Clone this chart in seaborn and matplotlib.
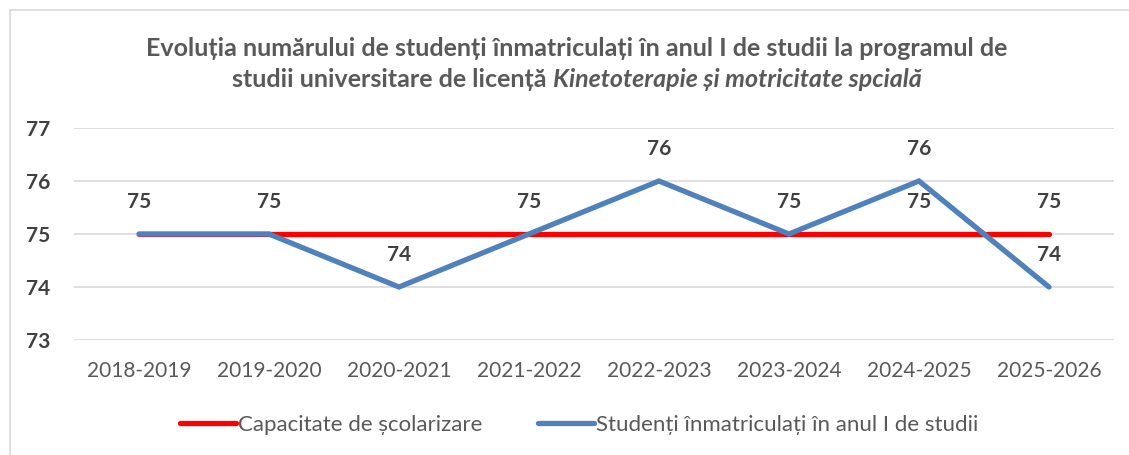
import pandas as pd
import seaborn as sns
import matplotlib
matplotlib.use("Agg")
from matplotlib import pyplot as plt
from matplotlib.patches import Rectangle

# data
years = ["2018-2019", "2019-2020", "2020-2021", "2021-2022",
         "2022-2023", "2023-2024", "2024-2025", "2025-2026"]
capacitate = [75, 75, 75, 75, 75, 75, 75, 75]
inmatriculati = [75, 75, 74, 75, 76, 75, 76, 74]
capacitate_labels_at = [6, 7]  # only these labels of the red series are visible

sns.set_theme(style="white")
plt.rcParams["font.family"] = ["Lato", "DejaVu Sans"]

df = pd.DataFrame({"an": years, "cap": capacitate, "stud": inmatriculati})
df["x"] = range(len(years))

fig = plt.figure(figsize=(11.29, 4.55), dpi=100)
ax = fig.add_axes([0.0655, 0.2527, 0.9212, 0.466])

# outer chart frame
fig.patches.append(Rectangle((10 / 1129, -0.1), 1.2, 1 - 10 / 455 + 0.1,
                             transform=fig.transFigure, fill=False,
                             edgecolor="#D9D9D9", linewidth=1.2))

sns.lineplot(data=df, x="x", y="cap", ax=ax, color="#FF0000", linewidth=3.8,
             solid_capstyle="round", label="Capacitate de școlarizare")
sns.lineplot(data=df, x="x", y="stud", ax=ax, color="#4F81BD", linewidth=3.8,
             solid_capstyle="round", solid_joinstyle="miter",
             label="Studenți înmatriculați în anul I de studii")

# data labels
for i, v in enumerate(inmatriculati):
    ax.annotate(str(v), (i, v), xytext=(0, 23), textcoords="offset points",
                ha="center", va="center", fontsize=15, fontweight="bold",
                color="#404040")
for i in capacitate_labels_at:
    ax.annotate(str(capacitate[i]), (i, capacitate[i]), xytext=(0, 23),
                textcoords="offset points", ha="center", va="center",
                fontsize=15, fontweight="bold", color="#404040")

ax.set_xlim(-0.5, len(years) - 0.5)
ax.set_ylim(73, 77)
ax.set_yticks([73, 74, 75, 76, 77])
ax.set_xticks(range(len(years)))
ax.set_xticklabels(years, fontsize=15, color="#595959")
ax.tick_params(axis="y", labelsize=15, labelcolor="#404040", length=0, pad=17)
ax.tick_params(axis="x", length=0, pad=15)
for lab in ax.get_yticklabels():
    lab.set_fontweight("bold")
ax.yaxis.grid(True, color="#D9D9D9", linewidth=1.2)
ax.set_axisbelow(True)
for s in ax.spines.values():
    s.set_visible(False)
ax.set_xlabel("")
ax.set_ylabel("")

# title, second line partly italic
cx = 0.511
fig.text(cx, 0.893, "Evoluția numărului de studenți înmatriculați în anul I de studii la programul de",
         ha="center", va="center", fontsize=18, fontweight="bold", color="#595959")
t1 = fig.text(0, 0.826, "studii universitare de licență ", ha="left", va="center",
              fontsize=18, fontweight="bold", color="#595959")
t2 = fig.text(0, 0.826, "Kinetoterapie și motricitate spcială", ha="left", va="center",
              fontsize=18, fontweight="bold", fontstyle="italic", color="#595959")
fig.canvas.draw()
r = fig.canvas.get_renderer()
w1 = t1.get_window_extent(r).width / fig.bbox.width
w2 = t2.get_window_extent(r).width / fig.bbox.width
x0 = cx - (w1 + w2) / 2
t1.set_x(x0)
t2.set_x(x0 + w1)

leg = ax.legend(loc="center", bbox_to_anchor=(0.486, -0.4), ncol=2, frameon=False,
                fontsize=16, handlelength=2.5, handletextpad=0.1, columnspacing=2.5)
for t in leg.get_texts():
    t.set_color("#595959")

fig.savefig("out.png", dpi=100)
